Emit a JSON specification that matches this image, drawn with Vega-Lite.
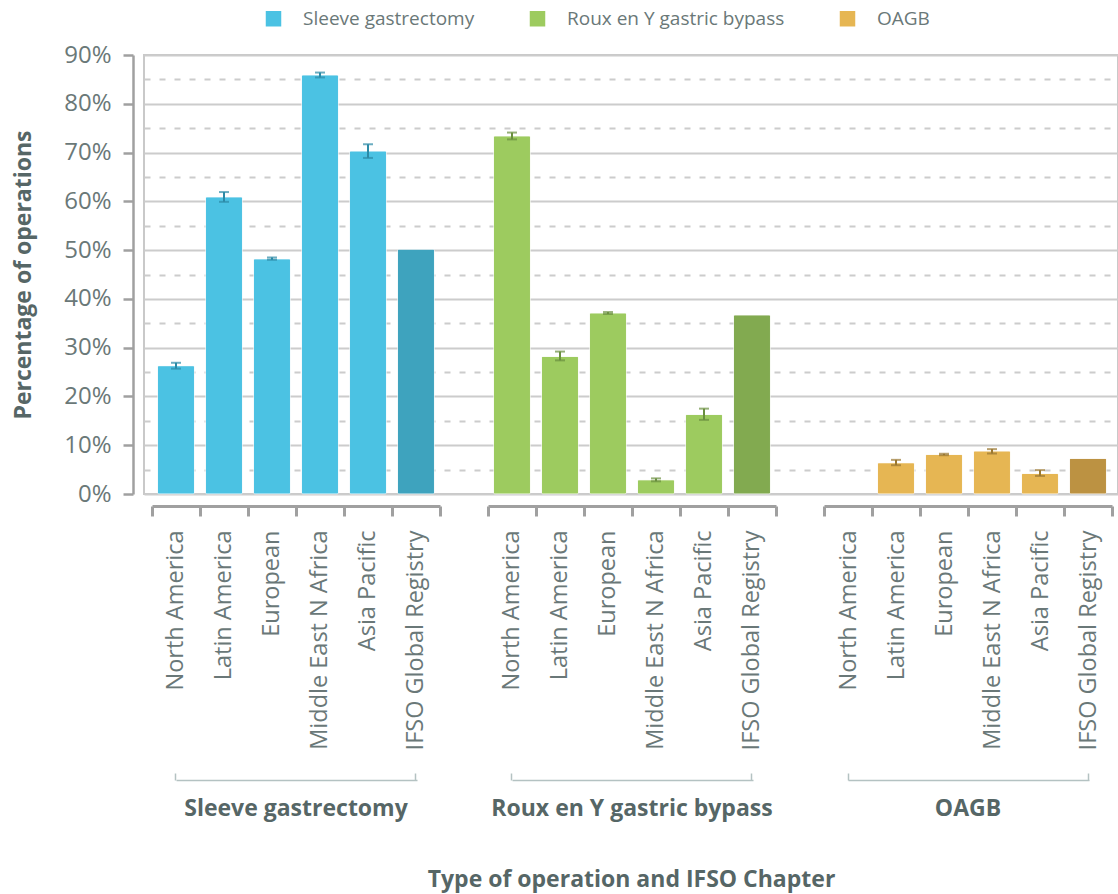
{
  "$schema": "https://vega.github.io/schema/vega-lite/v6.json",
  "width": 974,
  "height": 439,
  "autosize": {"type": "none"},
  "padding": {"left": 144, "top": 55, "right": 0, "bottom": 400},
  "background": "#ffffff",
  "config": {"font": "Open Sans", "view": {"stroke": "#c9c9c9", "strokeWidth": 2}},
  "data": {"values": [
    {"key": "SG|North America", "op": "SG", "shade": "SG", "value": 26.3, "lo": 25.7, "hi": 26.9},
    {"key": "SG|Latin America", "op": "SG", "shade": "SG", "value": 60.9, "lo": 59.9, "hi": 61.9},
    {"key": "SG|European", "op": "SG", "shade": "SG", "value": 48.2, "lo": 48.0, "hi": 48.5},
    {"key": "SG|Middle East N Africa", "op": "SG", "shade": "SG", "value": 85.9, "lo": 85.4, "hi": 86.4},
    {"key": "SG|Asia Pacific", "op": "SG", "shade": "SG", "value": 70.3, "lo": 68.9, "hi": 71.7},
    {"key": "SG|IFSO Global Registry", "op": "SG", "shade": "SG global", "value": 50.2},
    {"key": "RY|North America", "op": "RY", "shade": "RY", "value": 73.4, "lo": 72.7, "hi": 74.1},
    {"key": "RY|Latin America", "op": "RY", "shade": "RY", "value": 28.2, "lo": 27.4, "hi": 29.2},
    {"key": "RY|European", "op": "RY", "shade": "RY", "value": 37.1, "lo": 36.9, "hi": 37.3},
    {"key": "RY|Middle East N Africa", "op": "RY", "shade": "RY", "value": 2.9, "lo": 2.6, "hi": 3.2},
    {"key": "RY|Asia Pacific", "op": "RY", "shade": "RY", "value": 16.3, "lo": 15.2, "hi": 17.5},
    {"key": "RY|IFSO Global Registry", "op": "RY", "shade": "RY global", "value": 36.7},
    {"key": "OA|Latin America", "op": "OA", "shade": "OA", "value": 6.4, "lo": 5.9, "hi": 7.0},
    {"key": "OA|European", "op": "OA", "shade": "OA", "value": 8.1, "lo": 7.95, "hi": 8.25},
    {"key": "OA|Middle East N Africa", "op": "OA", "shade": "OA", "value": 8.8, "lo": 8.3, "hi": 9.2},
    {"key": "OA|Asia Pacific", "op": "OA", "shade": "OA", "value": 4.2, "lo": 3.7, "hi": 4.9},
    {"key": "OA|IFSO Global Registry", "op": "OA", "shade": "OA global", "value": 7.3}
  ]},
  "layer": [
    {
      "mark": {"type": "bar", "width": {"band": 0.77}, "stroke": "#ffffff", "strokeOpacity": 0.5, "strokeWidth": 1, "cornerRadius": 1.5},
      "encoding": {
        "x": {
          "field": "key", "type": "nominal",
          "scale": {
            "domain": ["SG|North America", "SG|Latin America", "SG|European", "SG|Middle East N Africa", "SG|Asia Pacific", "SG|IFSO Global Registry", "gap1",
                       "RY|North America", "RY|Latin America", "RY|European", "RY|Middle East N Africa", "RY|Asia Pacific", "RY|IFSO Global Registry", "gap2",
                       "OA|North America", "OA|Latin America", "OA|European", "OA|Middle East N Africa", "OA|Asia Pacific", "OA|IFSO Global Registry"],
            "paddingInner": 0, "paddingOuter": 0.1458, "align": 0.5714
          },
          "axis": {
            "orient": "bottom", "offset": 12, "title": null,
            "domain": true, "domainColor": "#a0a0a0", "domainWidth": 3, "domainDash": [288, 48], "domainDashOffset": 328,
            "ticks": true, "tickBand": "extent", "tickSize": 10, "tickWidth": 3, "tickColor": "#a0a0a0",
            "labelAngle": -90, "labelPadding": 14, "labelFontSize": 23.5, "labelColor": "#6a7878", "labelLimit": 300,
            "labelExpr": "length(split(datum.value, '|')) > 1 ? split(datum.value, '|')[1] : ''"
          }
        },
        "y": {
          "field": "value", "type": "quantitative",
          "scale": {"domain": [0, 90], "nice": false},
          "axis": {
            "orient": "left",
            "values": [0, 10, 20, 30, 40, 50, 60, 70, 80, 90],
            "offset": 11,
            "domainColor": "#a0a0a0", "domainWidth": 2.5,
            "tickColor": "#a0a0a0", "tickWidth": 2.5, "tickSize": 10,
            "labelExpr": "datum.value + '%'",
            "labelFontSize": 24, "labelColor": "#6a7878", "labelPadding": 12,
            "grid": true, "gridColor": "#cccccc", "gridWidth": 2,
            "title": "Percentage of operations", "titleFontSize": 23, "titleFontWeight": "bold", "titleColor": "#566666", "titlePadding": 28
          }
        },
        "color": {
          "field": "shade", "type": "nominal",
          "scale": {"domain": ["SG", "SG global", "RY", "RY global", "OA", "OA global"], "range": ["#4bc2e3", "#3ea3be", "#9dcb5f", "#82aa50", "#e6b653", "#bc9242"]},
          "legend": {
            "orient": "none", "legendX": 120, "legendY": -46, "direction": "horizontal", "title": null,
            "values": ["SG", "RY", "OA"],
            "labelExpr": "datum.value === 'SG' ? 'Sleeve gastrectomy' : datum.value === 'RY' ? 'Roux en Y gastric bypass' : 'OAGB'",
            "symbolType": "square", "symbolSize": 240, "symbolStrokeWidth": 0, "symbolOpacity": 1,
            "labelFontSize": 19, "labelColor": "#6a7878", "labelOffset": 20, "labelLimit": 400, "columnPadding": 53
          }
        }
      }
    },
    {
      "transform": [{"filter": "isValid(datum.lo)"}],
      "mark": {"type": "rule", "strokeWidth": 2},
      "encoding": {
        "x": {
          "field": "key", "type": "nominal",
          "axis": {
            "orient": "bottom",
            "values": ["SG|Middle East N Africa", "RY|Middle East N Africa", "OA|Middle East N Africa"],
            "domain": false, "ticks": false, "grid": false, "offset": 303, "labelPadding": 0, "labelOffset": -24,
            "labelExpr": "split(datum.value, '|')[0] === 'SG' ? 'Sleeve gastrectomy' : split(datum.value, '|')[0] === 'RY' ? 'Roux en Y gastric bypass' : 'OAGB'",
            "labelFontSize": 23, "labelFontWeight": "bold", "labelColor": "#566666", "labelAngle": 0, "labelLimit": 400,
            "title": "Type of operation and IFSO Chapter", "titleFontSize": 23, "titleFontWeight": "bold", "titleColor": "#566666", "titlePadding": 48
          }
        },
        "y": {"field": "lo", "type": "quantitative", "axis": null},
        "y2": {"field": "hi"},
        "color": {"field": "op", "type": "nominal", "scale": {"domain": ["SG", "RY", "OA"], "range": ["#2c8aa6", "#6a8f3f", "#9a7832"]}, "legend": null}
      }
    },
    {
      "transform": [{"filter": "isValid(datum.hi)"}],
      "mark": {"type": "tick", "size": 10, "thickness": 2},
      "encoding": {
        "x": {
          "field": "key", "type": "nominal",
          "axis": {
            "orient": "bottom",
            "values": ["SG|North America", "SG|IFSO Global Registry", "RY|North America", "RY|IFSO Global Registry", "OA|North America", "OA|IFSO Global Registry"],
            "offset": 286, "labels": false, "title": null, "grid": false,
            "domain": true, "domainColor": "#b4c2c2", "domainWidth": 1.5, "domainDash": [241, 95], "domainDashOffset": 304,
            "ticks": true, "tickSize": -7, "tickWidth": 1.5, "tickColor": "#b4c2c2"
          }
        },
        "y": {"field": "hi", "type": "quantitative", "axis": null},
        "color": {"field": "op", "type": "nominal", "scale": {"domain": ["SG", "RY", "OA"], "range": ["#2c8aa6", "#6a8f3f", "#9a7832"]}, "legend": null}
      }
    },
    {
      "transform": [{"filter": "isValid(datum.lo)"}],
      "mark": {"type": "tick", "size": 10, "thickness": 2},
      "encoding": {
        "x": {"field": "key", "type": "nominal", "axis": null},
        "y": {
          "field": "lo", "type": "quantitative",
          "axis": {
            "orient": "left",
            "values": [5, 15, 25, 35, 45, 55, 65, 75, 85],
            "domain": false, "ticks": false, "labels": false, "title": null,
            "grid": true, "gridColor": "#cccccc", "gridWidth": 1.8, "gridDash": [6, 9]
          }
        },
        "color": {"field": "op", "type": "nominal", "scale": {"domain": ["SG", "RY", "OA"], "range": ["#2c8aa6", "#6a8f3f", "#9a7832"]}, "legend": null}
      }
    }
  ],
  "resolve": {"axis": {"x": "independent", "y": "independent"}, "scale": {"color": "independent"}}
}
